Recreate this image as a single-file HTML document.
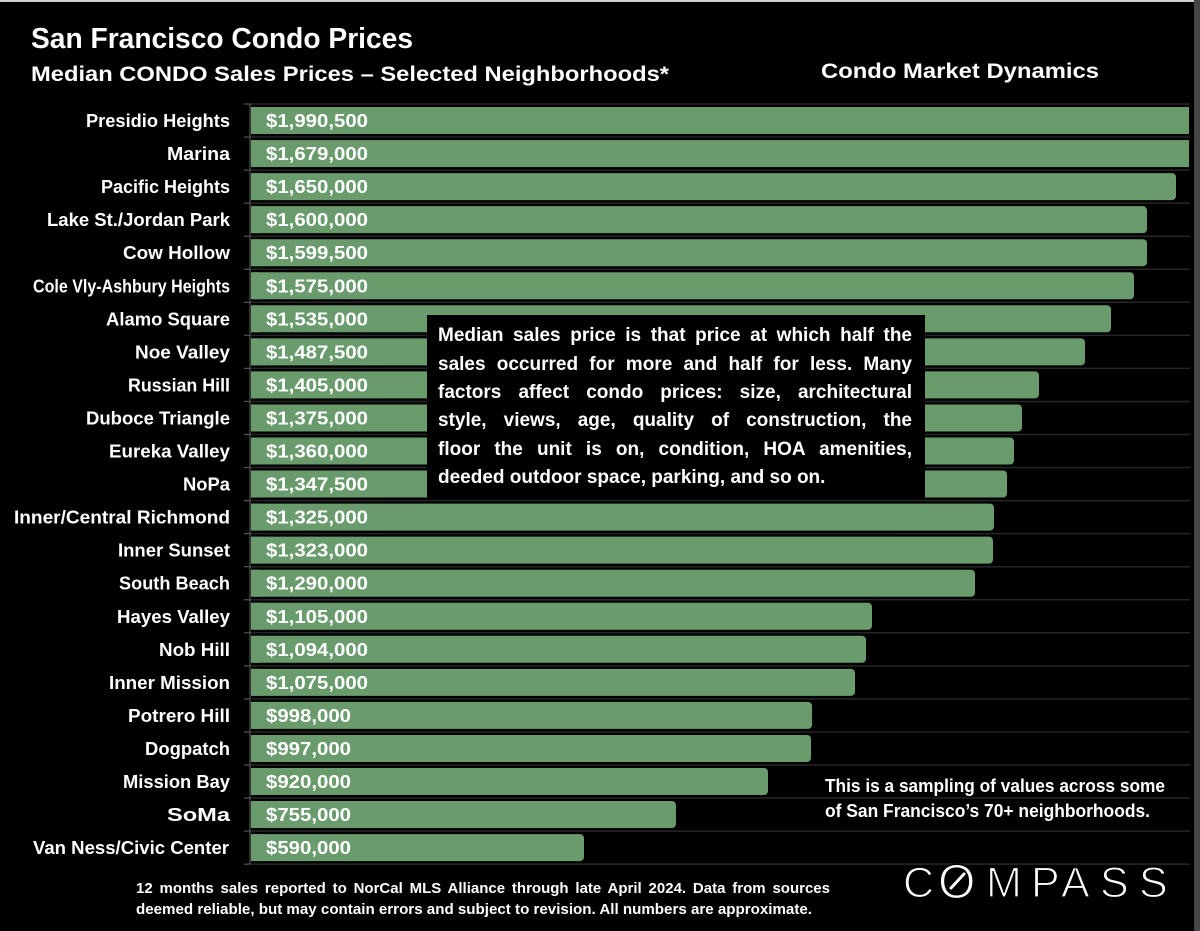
<!DOCTYPE html>
<html>
<head>
<meta charset="utf-8">
<style>
  html, body { margin:0; padding:0; background:#000; }
  body { width:1200px; height:931px; overflow:hidden; position:relative; }
  svg { display:block; position:absolute; left:0; top:0; }
  text { font-family: "Liberation Sans", Arial, sans-serif; fill:#fff; }
  .b { font-weight:bold; }
  .box { position:absolute; left:438px; top:322.2px; width:474px; font-family:"Liberation Sans", Arial, sans-serif; font-weight:bold; font-size:19px; line-height:28.4px; color:#fff; }
  .box div { text-align:justify; text-align-last:justify; }
  .box div.last { text-align:left; text-align-last:left; }
  .foot { position:absolute; left:136px; top:878.8px; width:694px; font-family:"Liberation Sans", Arial, sans-serif; font-weight:bold; font-size:15px; line-height:20px; color:#fff; text-align:justify; text-align-last:justify; }
</style>
</head>
<body>
<svg width="1200" height="931" viewBox="0 0 1200 931" xmlns="http://www.w3.org/2000/svg">
  <rect x="0" y="0" width="1200" height="931" fill="#000"/>
  <rect x="0" y="0" width="1200" height="2" fill="#cfcfcf"/>
  <rect x="1194" y="0" width="6" height="931" fill="#464646"/>

  <text class="b" x="31" y="48" font-size="28.5" textLength="382" lengthAdjust="spacingAndGlyphs">San Francisco Condo Prices</text>
  <text class="b" x="31" y="81" font-size="21" textLength="638" lengthAdjust="spacingAndGlyphs">Median CONDO Sales Prices – Selected Neighborhoods*</text>
  <text class="b" x="821" y="78" font-size="21" textLength="278" lengthAdjust="spacingAndGlyphs">Condo Market Dynamics</text>

  <g stroke="#262626" stroke-width="1.5">
    <line x1="250" x2="1190" y1="104" y2="104"/>
    <line x1="250" x2="1190" y1="137.05" y2="137.05"/>
    <line x1="250" x2="1190" y1="170.1" y2="170.1"/>
    <line x1="250" x2="1190" y1="203.15" y2="203.15"/>
    <line x1="250" x2="1190" y1="236.2" y2="236.2"/>
    <line x1="250" x2="1190" y1="269.25" y2="269.25"/>
    <line x1="250" x2="1190" y1="302.3" y2="302.3"/>
    <line x1="250" x2="1190" y1="335.35" y2="335.35"/>
    <line x1="250" x2="1190" y1="368.4" y2="368.4"/>
    <line x1="250" x2="1190" y1="401.45" y2="401.45"/>
    <line x1="250" x2="1190" y1="434.5" y2="434.5"/>
    <line x1="250" x2="1190" y1="467.55" y2="467.55"/>
    <line x1="250" x2="1190" y1="500.6" y2="500.6"/>
    <line x1="250" x2="1190" y1="533.65" y2="533.65"/>
    <line x1="250" x2="1190" y1="566.7" y2="566.7"/>
    <line x1="250" x2="1190" y1="599.75" y2="599.75"/>
    <line x1="250" x2="1190" y1="632.8" y2="632.8"/>
    <line x1="250" x2="1190" y1="665.85" y2="665.85"/>
    <line x1="250" x2="1190" y1="698.9" y2="698.9"/>
    <line x1="250" x2="1190" y1="731.95" y2="731.95"/>
    <line x1="250" x2="1190" y1="765" y2="765"/>
    <line x1="250" x2="1190" y1="798.05" y2="798.05"/>
    <line x1="250" x2="1190" y1="831.1" y2="831.1"/>
    <line x1="250" x2="1190" y1="864.15" y2="864.15"/>
  </g>
  <g stroke="#555" stroke-width="1.2">
    <line x1="250" x2="250" y1="104" y2="864"/>
    <line x1="244" x2="250" y1="104" y2="104"/>
    <line x1="244" x2="250" y1="137.05" y2="137.05"/>
    <line x1="244" x2="250" y1="170.1" y2="170.1"/>
    <line x1="244" x2="250" y1="203.15" y2="203.15"/>
    <line x1="244" x2="250" y1="236.2" y2="236.2"/>
    <line x1="244" x2="250" y1="269.25" y2="269.25"/>
    <line x1="244" x2="250" y1="302.3" y2="302.3"/>
    <line x1="244" x2="250" y1="335.35" y2="335.35"/>
    <line x1="244" x2="250" y1="368.4" y2="368.4"/>
    <line x1="244" x2="250" y1="401.45" y2="401.45"/>
    <line x1="244" x2="250" y1="434.5" y2="434.5"/>
    <line x1="244" x2="250" y1="467.55" y2="467.55"/>
    <line x1="244" x2="250" y1="500.6" y2="500.6"/>
    <line x1="244" x2="250" y1="533.65" y2="533.65"/>
    <line x1="244" x2="250" y1="566.7" y2="566.7"/>
    <line x1="244" x2="250" y1="599.75" y2="599.75"/>
    <line x1="244" x2="250" y1="632.8" y2="632.8"/>
    <line x1="244" x2="250" y1="665.85" y2="665.85"/>
    <line x1="244" x2="250" y1="698.9" y2="698.9"/>
    <line x1="244" x2="250" y1="731.95" y2="731.95"/>
    <line x1="244" x2="250" y1="765" y2="765"/>
    <line x1="244" x2="250" y1="798.05" y2="798.05"/>
    <line x1="244" x2="250" y1="831.1" y2="831.1"/>
    <line x1="244" x2="250" y1="864.15" y2="864.15"/>
  </g>

  <g fill="#699b6d">
    <rect x="251" y="107" width="938" height="27"/>
    <rect x="251" y="140.05" width="938" height="27"/>
    <rect x="251" y="173.1" width="925" height="27" rx="4"/>
    <rect x="251" y="206.15" width="896" height="27" rx="4"/>
    <rect x="251" y="239.2" width="896" height="27" rx="4"/>
    <rect x="251" y="272.25" width="883" height="27" rx="4"/>
    <rect x="251" y="305.3" width="860" height="27" rx="4"/>
    <rect x="251" y="338.35" width="834" height="27" rx="4"/>
    <rect x="251" y="371.4" width="788" height="27" rx="4"/>
    <rect x="251" y="404.45" width="771" height="27" rx="4"/>
    <rect x="251" y="437.5" width="763" height="27" rx="4"/>
    <rect x="251" y="470.55" width="756" height="27" rx="4"/>
    <rect x="251" y="503.6" width="743" height="27" rx="4"/>
    <rect x="251" y="536.65" width="742" height="27" rx="4"/>
    <rect x="251" y="569.7" width="724" height="27" rx="4"/>
    <rect x="251" y="602.75" width="621" height="27" rx="4"/>
    <rect x="251" y="635.8" width="615" height="27" rx="4"/>
    <rect x="251" y="668.85" width="604" height="27" rx="4"/>
    <rect x="251" y="701.9" width="561" height="27" rx="4"/>
    <rect x="251" y="734.95" width="560" height="27" rx="4"/>
    <rect x="251" y="768" width="517" height="27" rx="4"/>
    <rect x="251" y="801.05" width="425" height="27" rx="4"/>
    <rect x="251" y="834.1" width="333" height="27" rx="4"/>
  </g>
  <g fill="#699b6d">
    <rect x="251" y="173.1" width="8" height="27"/>
    <rect x="251" y="206.15" width="8" height="27"/>
    <rect x="251" y="239.2" width="8" height="27"/>
    <rect x="251" y="272.25" width="8" height="27"/>
    <rect x="251" y="305.3" width="8" height="27"/>
    <rect x="251" y="338.35" width="8" height="27"/>
    <rect x="251" y="371.4" width="8" height="27"/>
    <rect x="251" y="404.45" width="8" height="27"/>
    <rect x="251" y="437.5" width="8" height="27"/>
    <rect x="251" y="470.55" width="8" height="27"/>
    <rect x="251" y="503.6" width="8" height="27"/>
    <rect x="251" y="536.65" width="8" height="27"/>
    <rect x="251" y="569.7" width="8" height="27"/>
    <rect x="251" y="602.75" width="8" height="27"/>
    <rect x="251" y="635.8" width="8" height="27"/>
    <rect x="251" y="668.85" width="8" height="27"/>
    <rect x="251" y="701.9" width="8" height="27"/>
    <rect x="251" y="734.95" width="8" height="27"/>
    <rect x="251" y="768" width="8" height="27"/>
    <rect x="251" y="801.05" width="8" height="27"/>
    <rect x="251" y="834.1" width="8" height="27"/>
  </g>

  <g font-size="18.6" text-anchor="end" font-weight="bold">
    <text x="230" y="127" textLength="144" lengthAdjust="spacingAndGlyphs">Presidio Heights</text>
    <text x="230" y="160.05" textLength="63" lengthAdjust="spacingAndGlyphs">Marina</text>
    <text x="230" y="193.1" textLength="129" lengthAdjust="spacingAndGlyphs">Pacific Heights</text>
    <text x="230" y="226.15" textLength="183" lengthAdjust="spacingAndGlyphs">Lake St./Jordan Park</text>
    <text x="230" y="259.2" textLength="107" lengthAdjust="spacingAndGlyphs">Cow Hollow</text>
    <text x="230" y="292.25" textLength="197" lengthAdjust="spacingAndGlyphs">Cole Vly-Ashbury Heights</text>
    <text x="230" y="325.3" textLength="124" lengthAdjust="spacingAndGlyphs">Alamo Square</text>
    <text x="230" y="358.35" textLength="95" lengthAdjust="spacingAndGlyphs">Noe Valley</text>
    <text x="230" y="391.4" textLength="102" lengthAdjust="spacingAndGlyphs">Russian Hill</text>
    <text x="230" y="424.45" textLength="144" lengthAdjust="spacingAndGlyphs">Duboce Triangle</text>
    <text x="230" y="457.5" textLength="121" lengthAdjust="spacingAndGlyphs">Eureka Valley</text>
    <text x="230" y="490.55" textLength="47" lengthAdjust="spacingAndGlyphs">NoPa</text>
    <text x="230" y="523.6" textLength="216" lengthAdjust="spacingAndGlyphs">Inner/Central Richmond</text>
    <text x="230" y="556.65" textLength="112" lengthAdjust="spacingAndGlyphs">Inner Sunset</text>
    <text x="230" y="589.7" textLength="111" lengthAdjust="spacingAndGlyphs">South Beach</text>
    <text x="230" y="622.75" textLength="113" lengthAdjust="spacingAndGlyphs">Hayes Valley</text>
    <text x="230" y="655.8" textLength="71" lengthAdjust="spacingAndGlyphs">Nob Hill</text>
    <text x="230" y="688.85" textLength="121" lengthAdjust="spacingAndGlyphs">Inner Mission</text>
    <text x="230" y="721.9" textLength="102" lengthAdjust="spacingAndGlyphs">Potrero Hill</text>
    <text x="230" y="754.95" textLength="85" lengthAdjust="spacingAndGlyphs">Dogpatch</text>
    <text x="230" y="788" textLength="107" lengthAdjust="spacingAndGlyphs">Mission Bay</text>
    <text x="230" y="821.05" textLength="63" lengthAdjust="spacingAndGlyphs">SoMa</text>
    <text x="229" y="854.1" textLength="196" lengthAdjust="spacingAndGlyphs">Van Ness/Civic Center</text>
  </g>

  <g font-size="18.6" font-weight="bold">
    <text x="266" y="127" textLength="102" lengthAdjust="spacingAndGlyphs">$1,990,500</text>
    <text x="266" y="160.05" textLength="102" lengthAdjust="spacingAndGlyphs">$1,679,000</text>
    <text x="266" y="193.1" textLength="102" lengthAdjust="spacingAndGlyphs">$1,650,000</text>
    <text x="266" y="226.15" textLength="102" lengthAdjust="spacingAndGlyphs">$1,600,000</text>
    <text x="266" y="259.2" textLength="102" lengthAdjust="spacingAndGlyphs">$1,599,500</text>
    <text x="266" y="292.25" textLength="102" lengthAdjust="spacingAndGlyphs">$1,575,000</text>
    <text x="266" y="325.3" textLength="102" lengthAdjust="spacingAndGlyphs">$1,535,000</text>
    <text x="266" y="358.35" textLength="102" lengthAdjust="spacingAndGlyphs">$1,487,500</text>
    <text x="266" y="391.4" textLength="102" lengthAdjust="spacingAndGlyphs">$1,405,000</text>
    <text x="266" y="424.45" textLength="102" lengthAdjust="spacingAndGlyphs">$1,375,000</text>
    <text x="266" y="457.5" textLength="102" lengthAdjust="spacingAndGlyphs">$1,360,000</text>
    <text x="266" y="490.55" textLength="102" lengthAdjust="spacingAndGlyphs">$1,347,500</text>
    <text x="266" y="523.6" textLength="102" lengthAdjust="spacingAndGlyphs">$1,325,000</text>
    <text x="266" y="556.65" textLength="102" lengthAdjust="spacingAndGlyphs">$1,323,000</text>
    <text x="266" y="589.7" textLength="102" lengthAdjust="spacingAndGlyphs">$1,290,000</text>
    <text x="266" y="622.75" textLength="102" lengthAdjust="spacingAndGlyphs">$1,105,000</text>
    <text x="266" y="655.8" textLength="102" lengthAdjust="spacingAndGlyphs">$1,094,000</text>
    <text x="266" y="688.85" textLength="102" lengthAdjust="spacingAndGlyphs">$1,075,000</text>
    <text x="266" y="721.9" textLength="85" lengthAdjust="spacingAndGlyphs">$998,000</text>
    <text x="266" y="754.95" textLength="85" lengthAdjust="spacingAndGlyphs">$997,000</text>
    <text x="266" y="788" textLength="85" lengthAdjust="spacingAndGlyphs">$920,000</text>
    <text x="266" y="821.05" textLength="85" lengthAdjust="spacingAndGlyphs">$755,000</text>
    <text x="266" y="854.1" textLength="85" lengthAdjust="spacingAndGlyphs">$590,000</text>
  </g>

  <rect x="427" y="315" width="498" height="185" fill="#000"/>

  <g font-size="18.6" font-weight="bold">
    <text x="825" y="792" textLength="340" lengthAdjust="spacingAndGlyphs">This is a sampling of values across some</text>
    <text x="825" y="817" textLength="325" lengthAdjust="spacingAndGlyphs">of San Francisco’s 70+ neighborhoods.</text>
  </g>

  <text x="136" y="914" font-size="15" font-weight="bold" textLength="676" lengthAdjust="spacingAndGlyphs">deemed reliable, but may contain errors and subject to revision. All numbers are approximate.</text>

  <text font-size="43" y="897" stroke="#000" stroke-width="1.3"><tspan x="903">C</tspan><tspan x="938" font-size="48" y="898">O</tspan><tspan x="986" y="897">M</tspan><tspan x="1031">P</tspan><tspan x="1061">A</tspan><tspan x="1100">S</tspan><tspan x="1139">S</tspan></text>
  <line x1="951" y1="888" x2="964" y2="874" stroke="#fff" stroke-width="3" stroke-linecap="round"/>
</svg>

<div class="box">
  <div>Median sales price is that price at which half the</div>
  <div>sales occurred for more and half for less. Many</div>
  <div>factors affect condo prices: size, architectural</div>
  <div>style, views, age, quality of construction, the</div>
  <div>floor the unit is on, condition, HOA amenities,</div>
  <div class="last">deeded outdoor space, parking, and so on.</div>
</div>

<div class="foot">12 months sales reported to NorCal MLS Alliance through late April 2024. Data from sources</div>
</body>
</html>
